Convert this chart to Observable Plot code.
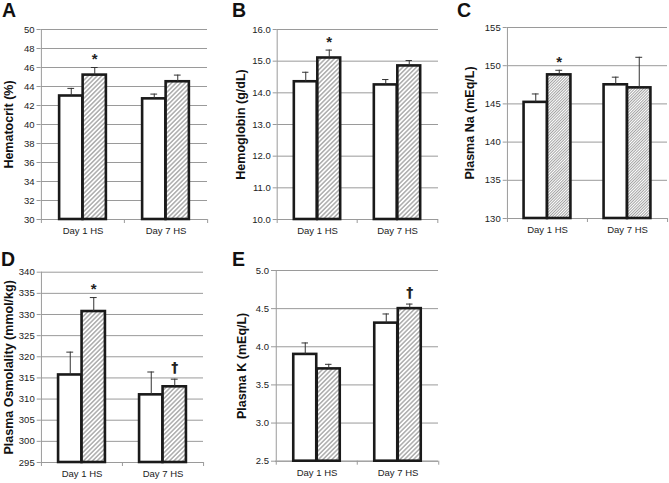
<!DOCTYPE html>
<html>
<head>
<meta charset="utf-8">
<script src="https://cdn.jsdelivr.net/npm/d3@7"></script>
<script src="https://cdn.jsdelivr.net/npm/@observablehq/plot@0.6"></script>
<style>
  html, body { margin: 0; padding: 0; background: #fff; }
  #root { position: relative; width: 669px; height: 483px; background: #fff; overflow: hidden;
          font-family: "Liberation Sans", Arial, sans-serif; }
  .panel { position: absolute; }
  .letter { position: absolute; font-weight: bold; font-size: 19.5px; line-height: 1; color: #111; }
</style>
</head>
<body>
<svg width="0" height="0" style="position:absolute">
  <defs>
    <pattern id="hatch" patternUnits="userSpaceOnUse" width="3.2" height="3.2" patternTransform="rotate(45)">
      <rect width="3.2" height="3.2" fill="#fff"></rect>
      <line x1="0.8" y1="0" x2="0.8" y2="3.2" stroke="#939393" stroke-width="1.15"></line>
    </pattern>
    <pattern id="hatchFine" patternUnits="userSpaceOnUse" width="2" height="2" patternTransform="rotate(45)">
      <rect width="2" height="2" fill="#fff"></rect>
      <line x1="0.5" y1="0" x2="0.5" y2="2" stroke="#999" stroke-width="0.9"></line>
    </pattern>
  </defs>
</svg>
<div id="root"></div>
<script>
// ---- data ----
const days = ["Day 1 HS", "Day 7 HS"];
const groups = ["control", "hs"];

// A: Hematocrit (%)
const hctMean = [43.0, 45.2, 42.7, 44.5];
const hctSE   = [0.8, 0.8, 0.5, 0.7];
const hctSig  = ["", "*", "", ""];
const hctTicks = [30, 32, 34, 36, 38, 40, 42, 44, 46, 48, 50];

// B: Hemoglobin (g/dL)
const hbMean = [14.35, 15.1, 14.25, 14.85];
const hbSE   = [0.3, 0.25, 0.17, 0.17];
const hbSig  = ["", "*", "", ""];
const hbTicks = [10, 11, 12, 13, 14, 15, 16];

// C: Plasma Na (mEq/L)
const naMean = [145.2, 148.8, 147.5, 147.1];
const naSE   = [1.1, 0.6, 1.0, 4.0];
const naSig  = ["", "*", "", ""];
const naTicks = [130, 135, 140, 145, 150, 155];

// D: Plasma Osmolality (mmol/kg)
const osmMean = [315.7, 330.7, 311.0, 312.9];
const osmSE   = [5.4, 3.3, 5.4, 1.8];
const osmSig  = ["", "*", "", "†"];
const osmTicks = [295, 300, 305, 310, 315, 320, 325, 330, 335, 340];

// E: Plasma K (mEq/L)
const kMean = [3.90, 3.71, 4.31, 4.50];
const kSE   = [0.15, 0.06, 0.12, 0.06];
const kSig  = ["", "", "", "†"];
const kTicks = [2.5, 3.0, 3.5, 4.0, 4.5, 5.0];

const root = document.getElementById("root");
const FONT = "'Liberation Sans', Arial, sans-serif";

function panel(cfg) {
  const rows = cfg.mean.map((m, i) => ({
    day: days[Math.floor(i / 2)], group: groups[i % 2], mean: m, se: cfg.se[i], top: m + cfg.se[i], sig: cfg.sig[i]
  }));
  const ctrl = rows.filter(d => d.group === "control");
  const hs = rows.filter(d => d.group === "hs");
  const pw = cfg.width - cfg.ml - cfg.mr;
  const bw = pw / 2;
  const barW = 23.5;
  const cap = 3.5;
  const y0 = cfg.domain[0];
  const cC = bw / 2 - barW / 2, cH = bw / 2 + barW / 2;
  const bar = {x: "day", y1: () => y0, y2: "mean", stroke: "#1a1a1a", strokeWidth: 2.6};
  const chart = Plot.plot({
    width: cfg.width, height: cfg.height,
    marginLeft: cfg.ml, marginRight: cfg.mr, marginTop: cfg.mt, marginBottom: cfg.mb,
    style: {fontFamily: FONT, fontSize: "9.5px", color: "#222", background: "transparent", overflow: "visible"},
    x: {type: "band", domain: days, padding: 0, label: null},
    y: {domain: cfg.domain, label: null},
    marks: [
      Plot.gridY(cfg.ticks, {stroke: "#9a9a9a", strokeOpacity: 1}),
      Plot.ruleX([days[0]], {dx: -bw / 2, stroke: "#9a9a9a"}),
      Plot.ruleY([y0], {stroke: "#9a9a9a"}),
      Plot.ruleX(days, {dx: -bw / 2, y1: y0, y2: y0, insetBottom: -4, stroke: "#9a9a9a"}),
      Plot.ruleX([days[1]], {dx: bw / 2, y1: y0, y2: y0, insetBottom: -4, stroke: "#9a9a9a"}),
      Plot.axisY(cfg.ticks, {tickSize: 4, tickPadding: 2.5, stroke: "#9a9a9a", fill: "#222", tickFormat: cfg.fmt, label: null}),
      Plot.axisX({tickSize: 0, tickPadding: 8, label: null, fill: "#222", fontSize: 9.5}),
      Plot.barY(ctrl, {...bar, fill: "#fff", insetLeft: bw / 2 - barW, insetRight: bw / 2}),
      Plot.barY(hs, {...bar, fill: `url(#${cfg.hatch})`, insetLeft: bw / 2, insetRight: bw / 2 - barW}),
      Plot.ruleX(ctrl, {x: "day", y1: "mean", y2: "top", dx: -barW / 2, stroke: "#333", strokeWidth: 1}),
      Plot.ruleX(hs, {x: "day", y1: "mean", y2: "top", dx: barW / 2, stroke: "#333", strokeWidth: 1}),
      Plot.tickY(ctrl, {x: "day", y: "top", insetLeft: cC - cap, insetRight: bw - cC - cap, stroke: "#333", strokeWidth: 1}),
      Plot.tickY(hs, {x: "day", y: "top", insetLeft: cH - cap, insetRight: bw - cH - cap, stroke: "#333", strokeWidth: 1}),
      Plot.text(hs.filter(d => d.sig === "*"), {x: "day", y: "top", text: "sig", dx: barW / 2, dy: -8, fontSize: 15, fontWeight: "bold", fill: "#222"}),
      Plot.text(hs.filter(d => d.sig === "†"), {x: "day", y: "top", text: "sig", dx: barW / 2, dy: -12, fontSize: 14, fontWeight: "bold", fill: "#222", fontFamily: "'DejaVu Sans', sans-serif"}),
      Plot.text([cfg.label], {frameAnchor: "left", textAnchor: "middle", rotate: -90, dx: -cfg.labelOffset, fontSize: 12.5, fontWeight: "bold", fill: "#111"})
    ]
  });
  chart.classList.add("panel");
  chart.style.left = cfg.left + "px";
  chart.style.top = cfg.top + "px";
  root.appendChild(chart);
  const L = document.createElement("div");
  L.className = "letter";
  L.textContent = cfg.letter;
  L.style.left = cfg.lx + "px";
  L.style.top = cfg.ly + "px";
  root.appendChild(L);
}

const f1 = d3.format(".1f");
panel({letter: "A", lx: 2, ly: 1, left: 0, top: 0, width: 215, height: 240, ml: 40.5, mr: 8, mt: 29, mb: 21,
  domain: [30, 50], ticks: hctTicks, fmt: d => d, mean: hctMean, se: hctSE, sig: hctSig,
  hatch: "hatch", label: "Hematocrit (%)", labelOffset: 32.5});
panel({letter: "B", lx: 232, ly: 1, left: 220, top: 0, width: 225, height: 240, ml: 56.7, mr: 7, mt: 29, mb: 21,
  domain: [10, 16], ticks: hbTicks, fmt: f1, mean: hbMean, se: hbSE, sig: hbSig,
  hatch: "hatch", label: "Hemoglobin (g/dL)", labelOffset: 36.7});
panel({letter: "C", lx: 457, ly: 1, left: 440, top: 0, width: 229, height: 240, ml: 66.7, mr: 2, mt: 27, mb: 22,
  domain: [130, 155], ticks: naTicks, fmt: d => d, mean: naMean, se: naSE, sig: naSig,
  hatch: "hatchFine", label: "Plasma Na (mEq/L)", labelOffset: 37.7});
panel({letter: "D", lx: 1, ly: 250, left: 0, top: 240, width: 210, height: 243, ml: 40.7, mr: 7, mt: 31.7, mb: 21,
  domain: [295, 340], ticks: osmTicks, fmt: d => d, mean: osmMean, se: osmSE, sig: osmSig,
  hatch: "hatch", label: "Plasma Osmolality (mmol/kg)", labelOffset: 32.7});
panel({letter: "E", lx: 232, ly: 250, left: 220, top: 240, width: 225, height: 243, ml: 55, mr: 7, mt: 30, mb: 22.3,
  domain: [2.5, 5.0], ticks: kTicks, fmt: f1, mean: kMean, se: kSE, sig: kSig,
  hatch: "hatch", label: "Plasma K (mEq/L)", labelOffset: 34});
</script>
</body>
</html>
